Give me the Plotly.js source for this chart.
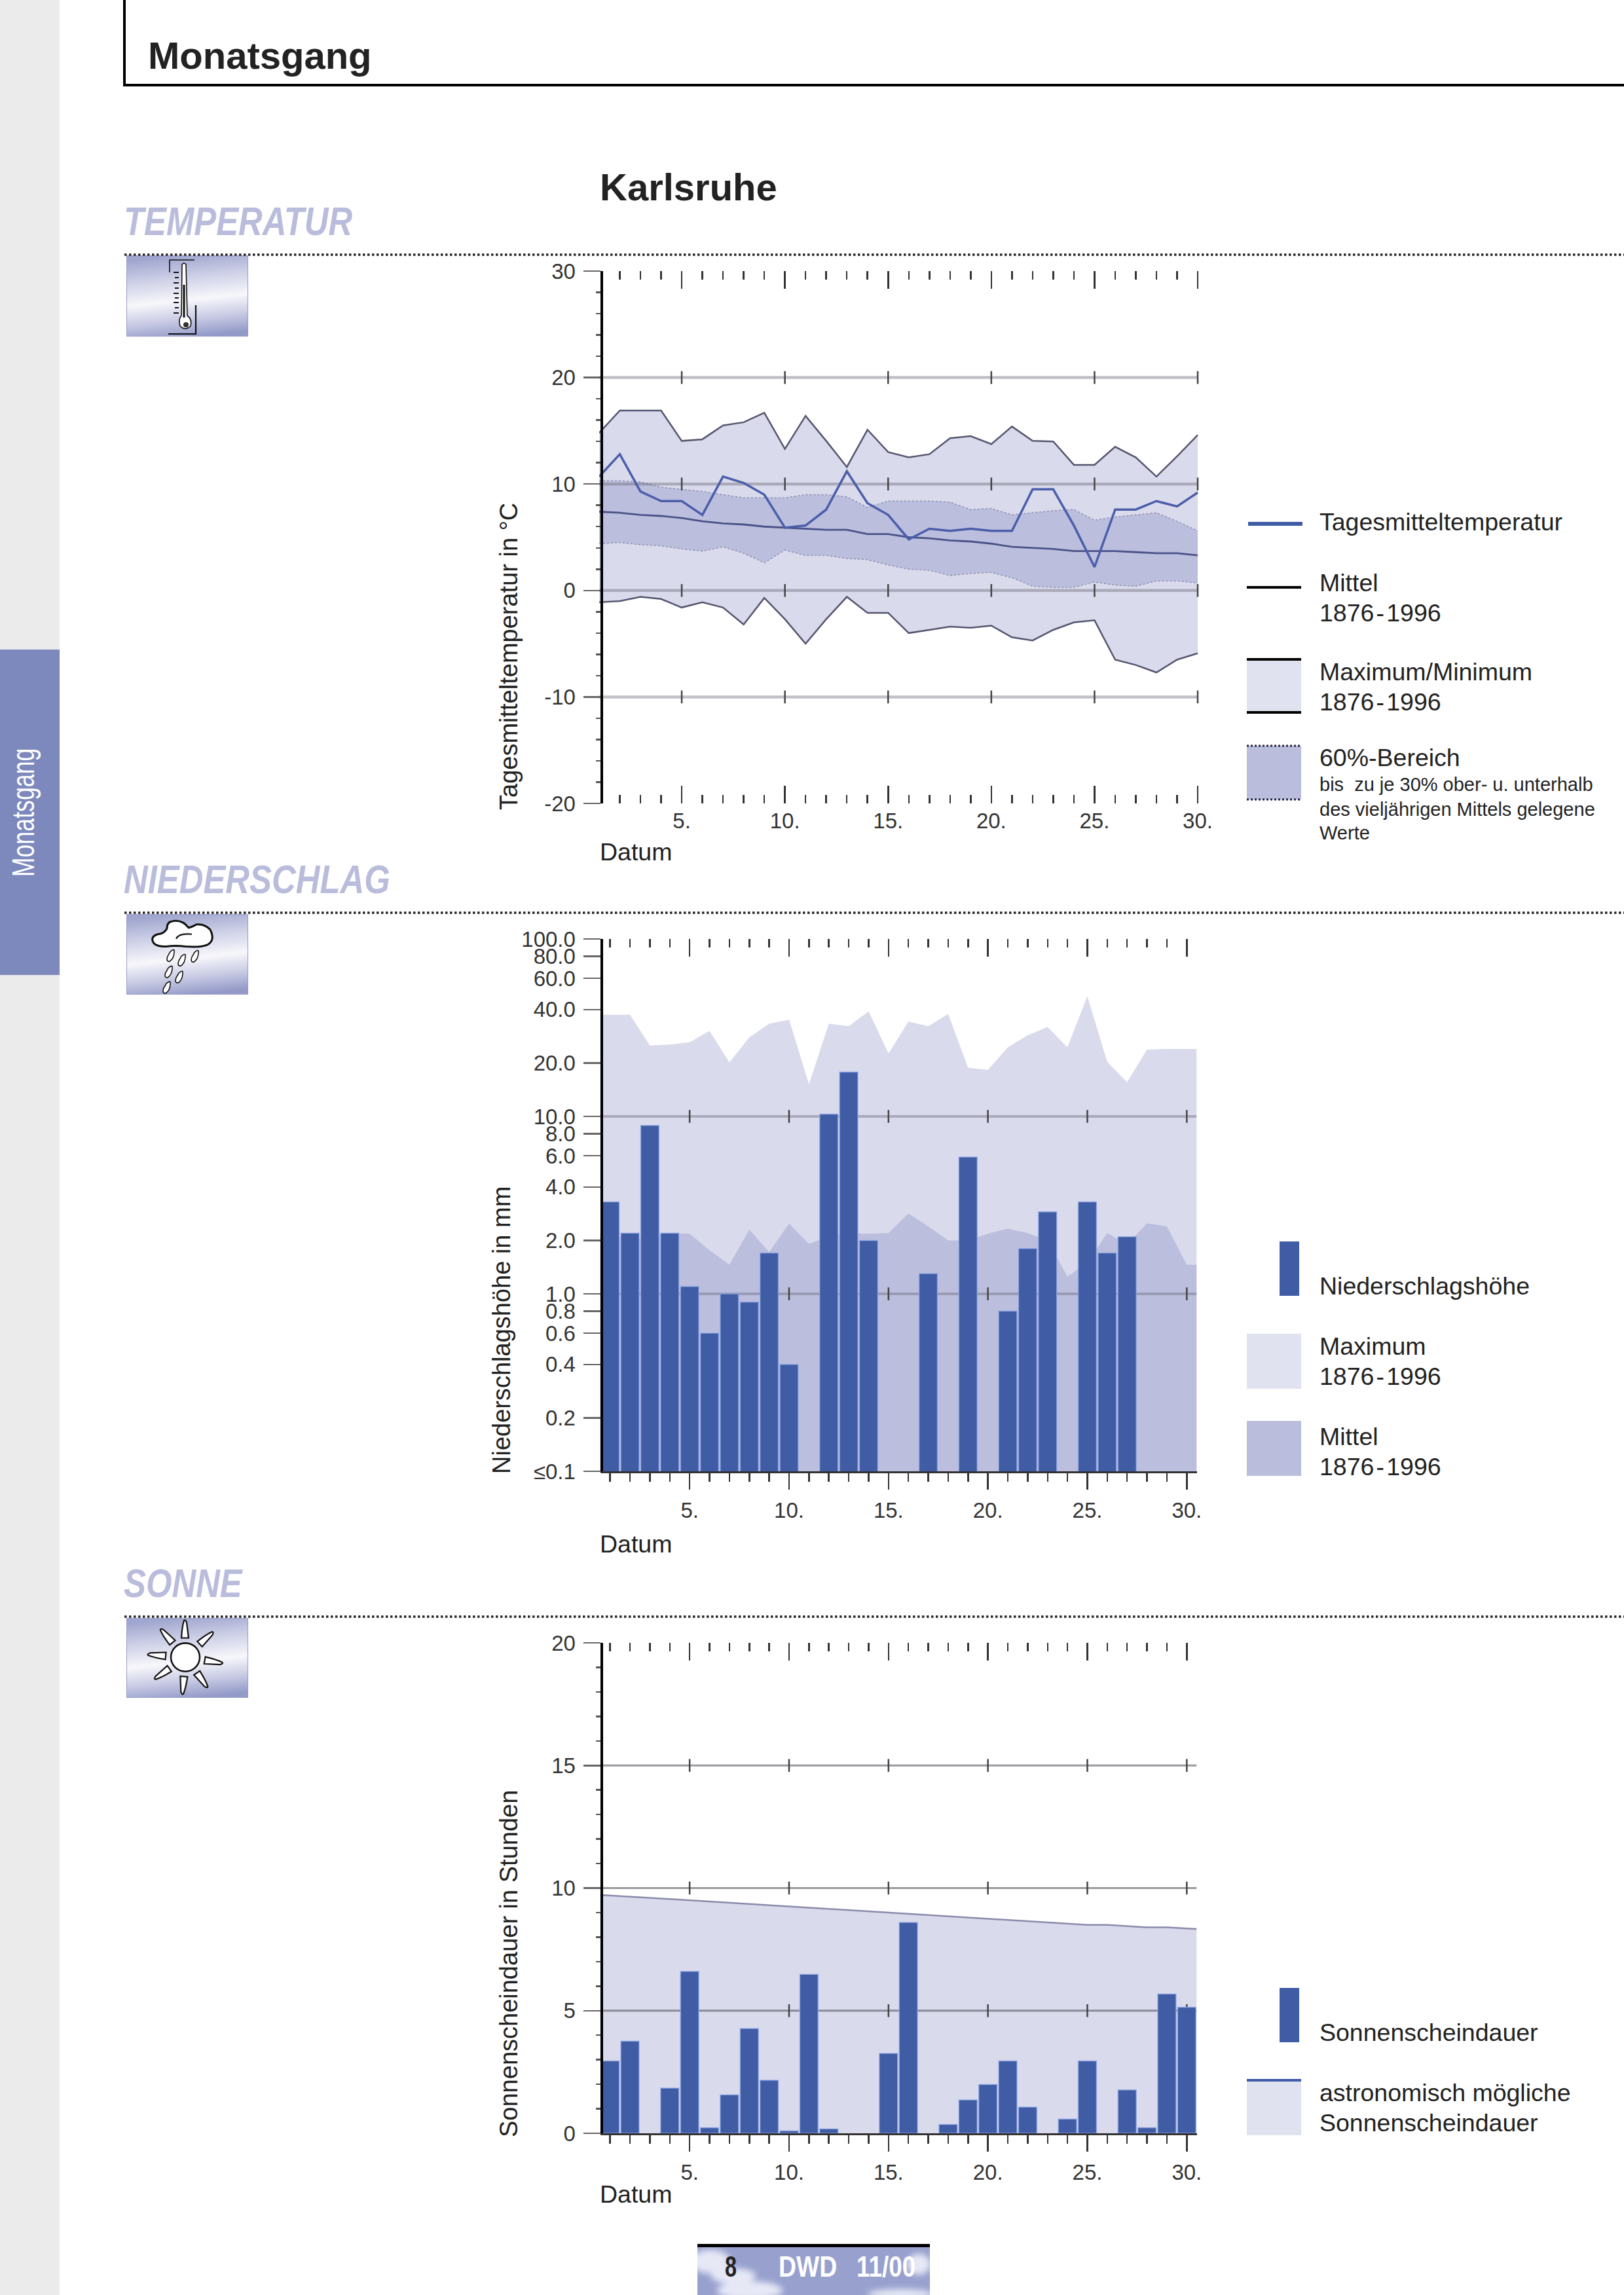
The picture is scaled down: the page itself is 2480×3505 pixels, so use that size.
<!DOCTYPE html>
<html><head><meta charset="utf-8">
<script src="https://cdn.plot.ly/plotly-3.0.1.min.js"></script>
<style>html,body{margin:0;padding:0;background:#fff}</style>
</head><body><div id="chart" style="width:2480px;height:3505px"></div>
<script>
// ---------- data ----------
const days = [1,2,3,4,5,6,7,8,9,10,11,12,13,14,15,16,17,18,19,20,21,22,23,24,25,26,27,28,29,30];
const tickDays = [5,10,15,20,25,30];
const tickDayLabels = ['5.','10.','15.','20.','25.','30.'];

const tempDaily = [10.7,12.8,9.3,8.4,8.4,7.1,10.7,10.1,9.0,5.9,6.1,7.6,11.2,8.2,7.1,4.8,5.8,5.6,5.8,5.6,5.6,9.5,9.5,6.1,2.2,7.6,7.6,8.4,7.9,9.2];
const tempMean = [7.4,7.3,7.1,7.0,6.8,6.5,6.3,6.2,6.0,5.9,5.8,5.7,5.7,5.3,5.3,5.0,4.9,4.7,4.6,4.4,4.1,4.0,3.9,3.7,3.7,3.7,3.6,3.5,3.5,3.3];
const tempMax = [14.8,16.9,16.9,16.9,14.05,14.2,15.5,15.8,16.7,13.3,16.4,14.05,11.6,15.1,13.0,12.5,12.8,14.3,14.5,13.75,15.4,14.05,14.0,11.8,11.8,13.5,12.5,10.7,12.6,14.6];
const tempMin = [-1.1,-1.0,-0.6,-0.8,-1.6,-1.1,-1.6,-3.2,-0.7,-2.7,-5.0,-2.7,-0.6,-2.1,-2.1,-4.0,-3.7,-3.4,-3.5,-3.3,-4.4,-4.7,-3.7,-3.0,-2.8,-6.5,-7.0,-7.7,-6.5,-5.9];
const tempP60Up = [10.3,10.3,10.2,9.7,9.5,9.3,9.0,8.7,8.7,8.7,9.0,9.0,8.8,7.8,8.4,8.4,8.4,8.3,7.6,7.7,7.1,7.3,7.5,7.6,6.6,6.9,7.1,7.3,6.5,5.6];
const tempP60Low = [4.4,4.5,4.3,4.2,3.9,3.7,4.1,3.5,2.6,3.8,3.3,3.3,3.0,2.9,2.4,2.0,1.9,1.4,1.6,1.7,1.2,0.4,0.3,0.3,0.8,0.5,0.4,0.9,0.9,0.7];
const tempTicks = [-20,-10,0,10,20,30];
const tempMinorTicks = [-18,-16,-14,-12,-8,-6,-4,-2,2,4,6,8,12,14,16,18,22,24,26,28];
const tempGrid = [-10,0,10,20];

const precip = [3.3,2.2,8.9,2.2,1.1,0.6,1.0,0.9,1.7,0.4,null,10.3,17.8,2.0,null,null,1.3,null,5.9,null,0.8,1.8,2.9,null,3.3,1.7,2.1,null,null,null];
const precipEdgeDays = [0.5,1,2,3,4,5,6,7,8,9,10,11,12,13,14,15,16,17,18,19,20,21,22,23,24,25,26,27,28,29,30,30.5];
const precipMax = [37.4,37.4,37.4,25.1,25.4,26.2,30.3,20.1,27.9,33.3,35.1,15.2,33.3,32.2,39.1,22.6,34.2,32.2,37.8,18.8,18.3,24.5,28.7,31.9,24.5,47.5,20.3,15.6,23.8,24.0,24.0,24.0];
const precipMean = [2.2,2.2,2.0,2.1,2.2,2.18,1.76,1.46,2.3,1.72,2.49,1.91,2.1,2.2,2.18,2.2,2.84,2.4,2.0,2.0,2.18,2.33,2.2,2.0,1.25,1.5,2.2,1.9,2.5,2.4,1.46,1.46];
const precipFloor = [0.1,0.1,0.1,0.1,0.1,0.1,0.1,0.1,0.1,0.1,0.1,0.1,0.1,0.1,0.1,0.1,0.1,0.1,0.1,0.1,0.1,0.1,0.1,0.1,0.1,0.1,0.1,0.1,0.1,0.1,0.1,0.1];
const precipTicks = [0.1,0.2,0.4,0.6,0.8,1,2,4,6,8,10,20,40,60,80,100];
const precipTickLabels = ['≤0.1','0.2','0.4','0.6','0.8','1.0','2.0','4.0','6.0','8.0','10.0','20.0','40.0','60.0','80.0','100.0'];
const precipGrid = [1,10];

const sun = [2.95,3.76,null,1.84,6.6,0.23,1.57,4.27,2.16,0.1,6.48,0.18,null,null,3.26,8.6,null,0.36,1.36,1.99,2.95,1.07,null,0.58,2.95,null,1.77,0.23,5.68,5.14];
const sunEdgeDays = [0.5,1,2,3,4,5,6,7,8,9,10,11,12,13,14,15,16,17,18,19,20,21,22,23,24,25,26,27,28,29,30,30.5];
const sunAstro = [9.72,9.7,9.65,9.6,9.55,9.5,9.45,9.4,9.35,9.3,9.25,9.2,9.15,9.1,9.05,9.0,8.95,8.9,8.85,8.8,8.75,8.7,8.65,8.6,8.55,8.5,8.5,8.45,8.4,8.4,8.35,8.33];
const sunTicks = [0,5,10,15,20];
const sunMinorTicks = [1,2,3,4,6,7,8,9,11,12,13,14,16,17,18,19];
const sunGrid = [5,10,15];

// ---------- page geometry and styles ----------
const W = 2480, H = 3505;
const px = x => x / W, py = y => 1 - y / H;
const SANS = 'Liberation Sans, Arial, sans-serif';
const BLUE = '#3F5CA4', BAND = '#D9DAEB', BAND2 = '#BCBEDD', TXT = '#222222', HEAD = '#B9BCDB';
const SW1 = '#E1E2EF', SW2 = '#BBBDDC';
const YEARS = '1876\u200A-\u200A1996';

const annotations = [], shapes = [], images = [], squeezed = [];
function label(x, base, text, size, o) {
  o = o || {};
  if (o.squeeze) squeezed.push([annotations.length, o.squeeze, 'left']);
  annotations.push({xref:'paper', yref:'paper', x:px(x), y:py(base - 0.3465 * size), xanchor:'left', yanchor:'middle',
    text:o.b ? '<b>' + (o.i ? '<i>' + text + '</i>' : text) + '</b>' : text, showarrow:false, borderpad:0, align:'left',
    font:{family:SANS, size:size, color:o.color || TXT}});
}
function vlabel(xc, yc, text, size, color, squeeze) {
  if (squeeze) squeezed.push([annotations.length, squeeze, 'center']);
  annotations.push({xref:'paper', yref:'paper', x:px(xc), y:py(yc), xanchor:'center', yanchor:'middle', textangle:-90,
    text:text, showarrow:false, borderpad:0, font:{family:SANS, size:size, color:color || TXT}});
}
function rect(x0, y0, x1, y1, fill) {
  shapes.push({type:'rect', xref:'paper', yref:'paper', x0:px(x0), x1:px(x1), y0:py(y0), y1:py(y1), fillcolor:fill, line:{width:0}, layer:'above'});
}
function hline(x0, x1, y, color, width, dash) {
  shapes.push({type:'line', xref:'paper', yref:'paper', x0:px(x0), x1:px(x1), y0:py(y), y1:py(y), line:{color:color, width:width, dash:dash || 'solid'}, layer:'above'});
}
function vline(x, y0, y1, color, width) {
  shapes.push({type:'line', xref:'paper', yref:'paper', x0:px(x), x1:px(x), y0:py(y0), y1:py(y1), line:{color:color, width:width}, layer:'above'});
}
function svgImage(svg, x, y, w, h) {
  images.push({source:'data:image/svg+xml;charset=utf-8,' + encodeURIComponent(svg), xref:'paper', yref:'paper',
    x:px(x), y:py(y), sizex:w / W, sizey:h / H, xanchor:'left', yanchor:'top', sizing:'stretch', layer:'above'});
}
function icon(inner) {
  return '<svg xmlns="http://www.w3.org/2000/svg" width="186" height="124" viewBox="0 0 186 124">' +
    '<defs><linearGradient id="g" x1="0.42" y1="0" x2="0.58" y2="1">' +
    '<stop offset="0" stop-color="#A0A6CF"/><stop offset="0.25" stop-color="#CBCDE5"/><stop offset="0.55" stop-color="#F7F7FB"/>' +
    '<stop offset="0.78" stop-color="#C9CBE4"/><stop offset="1" stop-color="#939AC8"/></linearGradient></defs>' +
    '<rect x="0.5" y="0.5" width="185" height="123" fill="url(#g)" stroke="#989EC8"/>' + inner + '</svg>';
}
const thermoIcon = icon(
  '<path d="M66 26V7H104" fill="none" stroke="#111" stroke-width="1.6"/><path d="M106 76V120H64" fill="none" stroke="#111" stroke-width="2.2"/>' +
  '<path d="M85 14Q88 10 91 14L93 92Q101 98 98 108Q90 116 82 108Q79 98 84 92Z" fill="#fff" stroke="#111" stroke-width="1.6"/>' +
  '<path d="M88 45V95" stroke="#111" stroke-width="3"/><circle cx="91" cy="106" r="4" fill="#333"/>' +
  '<path d="M72 26H80M74 34H80M72 42H80M74 50H80M72 58H80M74 65H80M72 72H80M74 80H80M72 88H80" stroke="#111" stroke-width="1.8"/>');
const rainDrop = (x, y) => '<path d="M' + x + ' ' + y + 'q7 -6 6 0q0 10 -7 15q-6 0 -3 -8z" fill="#fff" stroke="#111" stroke-width="1.6"/>';
const rainIcon = icon(
  '<path d="M40 41Q38 34 48 31Q58 30 62 22Q62 12 70 11Q85 8 95 21Q100 20 107 16Q120 15 128 24Q135 38 127 45Q120 52 90 50Q75 48 60 50Q42 50 40 41Z" fill="#fff" stroke="#111" stroke-width="3"/>' +
  '<path d="M76 38Q80 29 100 31" fill="none" stroke="#111" stroke-width="2.2"/>' +
  rainDrop(67,58) + rainDrop(84,65) + rainDrop(104,59) + rainDrop(64,83) + rainDrop(80,91) + rainDrop(61,107));
const sunRay = a => '<path transform="rotate(' + a + ' 90 61)" d="M84 31L95 31L92 7Q90 2 88 4Q85 14 84 31Z" fill="#fff" stroke="#111" stroke-width="2.2"/>';
const sunIcon = icon('<circle cx="90" cy="61" r="22" fill="#fff" stroke="#111" stroke-width="2.6"/>' +
  [0,48,100,145,185,235,275,320].map(sunRay).join(''));
const footerArt = '<svg xmlns="http://www.w3.org/2000/svg" width="355" height="73" viewBox="0 0 355 73">' +
  '<defs><filter id="b" x="-30%" y="-30%" width="160%" height="160%"><feGaussianBlur stdDeviation="5"/></filter></defs>' +
  '<rect width="355" height="73" fill="#98A1CE"/>' +
  '<g filter="url(#b)" fill="#E6E8F6"><ellipse cx="20" cy="22" rx="30" ry="18"/><ellipse cx="55" cy="44" rx="34" ry="12"/><ellipse cx="80" cy="66" rx="50" ry="14"/>' +
  '<ellipse cx="338" cy="26" rx="18" ry="16"/><ellipse cx="310" cy="72" rx="50" ry="8"/></g></svg>';

// ---------- page furniture ----------
rect(0, 0, 91, H, '#EBEBEB');
rect(0, 992, 91, 1489, '#7D88BC');
vlabel(36, 1241, 'Monatsgang', 48, '#FFFFFF', 0.745);
vline(190, 0, 131, '#000000', 4);
hline(188, W, 130, '#000000', 4);
label(225, 105, 'Monatsgang', 58, {b:true});
label(915, 306, 'Karlsruhe', 58, {b:true});

[[ 'TEMPERATUR', 359, 389, 390, 124, thermoIcon ],
 [ 'NIEDERSCHLAG', 1364, 1394, 1396, 123, rainIcon ],
 [ 'SONNE', 2439, 2469, 2471, 122, sunIcon ]].forEach(s => {
  label(188, s[1], s[0], 62, {b:true, i:true, color:HEAD, squeeze:0.82});
  svgImage(s[5], 193, s[3], 186, s[4]);
  hline(190, W, s[2], '#222222', 3.5, 'dot');
});

// footer
svgImage(footerArt, 1065, 3432, 355, 73);
hline(1065, 1420, 3429.5, '#000000', 5);
label(1106, 3477, '8', 45, {b:true, squeeze:0.72});
label(1188, 3477, 'DWD', 45, {b:true, color:'#FFFFFF', squeeze:0.83});
label(1307, 3477, '11/00', 45, {b:true, color:'#FFFFFF', squeeze:0.82});

// axis captions
vlabel(777, 1003, 'Tagesmitteltemperatur in °C', 38);
vlabel(766, 2032, 'Niederschlagshöhe in mm', 38);
vlabel(777, 2999, 'Sonnenscheindauer in Stunden', 38);
label(915, 1314, 'Datum', 37.5);
label(915, 2371, 'Datum', 37.5);
label(915, 3364, 'Datum', 37.5);

// legend: temperature
hline(1906, 1989, 800, '#3F5CA4', 6);
label(2014, 810, 'Tagesmitteltemperatur', 37.5);
hline(1904, 1987, 897, '#000000', 4);
label(2014, 903, 'Mittel', 37.5);
label(2014, 949, YEARS, 37.5);
rect(1904, 1007, 1987, 1088, SW1);
hline(1904, 1987, 1007, '#000000', 4);
hline(1904, 1987, 1088, '#000000', 4);
label(2014, 1039, 'Maximum/Minimum', 37.5);
label(2014, 1085, YEARS, 37.5);
rect(1904, 1139, 1987, 1221, SW2);
hline(1904, 1987, 1139, '#222244', 3, 'dot');
hline(1904, 1987, 1221, '#222244', 3, 'dot');
label(2014, 1170, '60%-Bereich', 37.5);
label(2014, 1208, 'bis  zu je 30% ober- u. unterhalb', 29);
label(2014, 1246, 'des vieljährigen Mittels gelegene', 29);
label(2014, 1282, 'Werte', 29);

// legend: precipitation
rect(1954, 1896, 1984, 1979, BLUE);
label(2014, 1977, 'Niederschlagshöhe', 37.5);
rect(1904, 2037, 1987, 2121, SW1);
label(2014, 2069, 'Maximum', 37.5);
label(2014, 2115, YEARS, 37.5);
rect(1904, 2170, 1987, 2254, SW2);
label(2014, 2207, 'Mittel', 37.5);
label(2014, 2253, YEARS, 37.5);

// legend: sunshine
rect(1954, 3036, 1984, 3119, BLUE);
label(2014, 3117, 'Sonnenscheindauer', 37.5);
rect(1904, 3175, 1987, 3261, SW1);
hline(1904, 1987, 3177, BLUE, 4);
label(2014, 3209, 'astronomisch mögliche', 37.5);
label(2014, 3255, 'Sonnenscheindauer', 37.5);

// ---------- axes ----------
const TICKFONT = {family:SANS, size:33, color:'#333333'};
const AXIS_X = 918.5;
function yAxis(top, bottom, range, ticks, ticktext, minors, extra) {
  return Object.assign({domain:[py(bottom), py(top)], range:range, tickmode:'array', tickvals:ticks, ticktext:ticktext,
    anchor:'free', position:px(AXIS_X),
    ticks:'outside', ticklen:26, tickwidth:2.5, tickcolor:'#666666', tickfont:TICKFONT, ticklabelstandoff:5,
    showgrid:false, zeroline:false, showline:true, linecolor:'#000000', linewidth:4, layer:'above traces',
    minor:minors ? {tickmode:'array', tickvals:minors, ticks:'outside', ticklen:7, tickwidth:2.5, tickcolor:'#555555', showgrid:false} : undefined
  }, extra || {});
}
function xBottom(x0, x1, range, anchor, inside, standoff) {
  return {domain:[px(x0), px(x1)], range:range, anchor:anchor, tickmode:'array', tickvals:tickDays, ticktext:tickDayLabels,
    ticks:inside ? 'inside' : 'outside', ticklen:inside ? 27 : 25, tickwidth:2.5, tickcolor:'#333333', tickfont:TICKFONT, ticklabelstandoff:standoff,
    showgrid:false, zeroline:false, showline:!inside, linecolor:'#333333', linewidth:3, layer:'above traces',
    minor:{tickmode:'array', tickvals:days, ticks:inside ? 'inside' : 'outside', ticklen:13, tickwidth:2.5, tickcolor:'#333333', showgrid:false}};
}
function xTop(x0, x1, range, anchor, over) {
  return {domain:[px(x0), px(x1)], range:range, anchor:anchor, overlaying:over, side:'top', tickmode:'array', tickvals:tickDays,
    ticks:'inside', ticklen:27, tickwidth:2.5, tickcolor:'#333333', showticklabels:false, showgrid:false, zeroline:false, showline:false,
    minor:{tickmode:'array', tickvals:days, ticks:'inside', ticklen:13, tickwidth:2.5, tickcolor:'#333333', showgrid:false}};
}
const num = a => a.map(String);

// ---------- traces ----------
function gridTraces(values, x0, x1, xa, ya, color, width) {
  const out = [];
  values.forEach(v => {
    out.push({type:'scatter', mode:'lines', x:[x0, x1], y:[v, v], xaxis:xa, yaxis:ya, line:{color:color, width:width}, hoverinfo:'skip', showlegend:false});
    out.push({type:'scatter', mode:'markers', x:tickDays, y:tickDays.map(() => v), xaxis:xa, yaxis:ya,
      marker:{symbol:'line-ns', size:14, line:{color:'#444444', width:2.5}}, hoverinfo:'skip', showlegend:false, cliponaxis:false});
  });
  return out;
}
const RANGE12 = [0.5, 30.5];
const RANGE1 = [1, 30.05];
const BAR_EDGE = {color:'rgba(150,172,232,0.75)', width:1.5};
const traces = [
  // temperature
  {type:'scatter', mode:'lines', name:'Minimum 1876-1996', x:days, y:tempMin, xaxis:'x', yaxis:'y', line:{color:'#55556F', width:2.5}},
  {type:'scatter', mode:'lines', name:'Maximum 1876-1996', x:days, y:tempMax, xaxis:'x', yaxis:'y', line:{color:'#55556F', width:2.5}, fill:'tonexty', fillcolor:BAND},
  {type:'scatter', mode:'lines', name:'60%-Bereich unten', x:days, y:tempP60Low, xaxis:'x', yaxis:'y', line:{color:'#8E8FB2', width:1.5, dash:'dot'}},
  {type:'scatter', mode:'lines', name:'60%-Bereich oben', x:days, y:tempP60Up, xaxis:'x', yaxis:'y', line:{color:'#8E8FB2', width:1.5, dash:'dot'}, fill:'tonexty', fillcolor:BAND2},
  ...gridTraces(tempGrid, 1, 30, 'x', 'y', 'rgba(105,105,120,0.42)', 4.5),
  {type:'scatter', mode:'lines', name:'Mittel 1876-1996', x:days, y:tempMean, xaxis:'x4', yaxis:'y', line:{color:'#4C5288', width:2.8}},
  {type:'scatter', mode:'lines', name:'Tagesmitteltemperatur', x:days, y:tempDaily, xaxis:'x4', yaxis:'y', line:{color:'#4A5EAA', width:3.5}},
  // precipitation
  {type:'scatter', mode:'lines', x:precipEdgeDays, y:precipFloor, xaxis:'x2', yaxis:'y2', line:{width:0}, hoverinfo:'skip', showlegend:false},
  {type:'scatter', mode:'lines', name:'Maximum 1876-1996', x:precipEdgeDays, y:precipMax, xaxis:'x2', yaxis:'y2', line:{width:0}, fill:'tonexty', fillcolor:BAND},
  {type:'scatter', mode:'lines', x:precipEdgeDays, y:precipFloor, xaxis:'x2', yaxis:'y2', line:{width:0}, hoverinfo:'skip', showlegend:false},
  {type:'scatter', mode:'lines', name:'Mittel 1876-1996', x:precipEdgeDays, y:precipMean, xaxis:'x2', yaxis:'y2', line:{width:0}, fill:'tonexty', fillcolor:BAND2},
  ...gridTraces(precipGrid, 0.5, 30.5, 'x2', 'y2', 'rgba(105,105,125,0.42)', 4),
  {type:'bar', name:'Niederschlagshöhe', x:days, y:precip, xaxis:'x5', yaxis:'y2', marker:{color:BLUE, line:BAR_EDGE}, width:0.92},
  // sunshine
  {type:'scatter', mode:'lines', name:'astronomisch mögliche Sonnenscheindauer', x:sunEdgeDays, y:sunAstro, xaxis:'x3', yaxis:'y3', line:{color:'#8A8AAC', width:2.5}, fill:'tozeroy', fillcolor:BAND},
  ...gridTraces(sunGrid, 0.5, 30.5, 'x3', 'y3', 'rgba(85,85,95,0.6)', 3),
  {type:'bar', name:'Sonnenscheindauer', x:days, y:sun, xaxis:'x6', yaxis:'y3', marker:{color:BLUE, line:BAR_EDGE}, width:0.92}
];

const layout = {
  width:W, height:H, margin:{l:0, r:0, t:0, b:0, pad:0}, paper_bgcolor:'#FFFFFF', plot_bgcolor:'rgba(0,0,0,0)',
  showlegend:false, hovermode:false, bargap:0.08,
  xaxis: xBottom(915, 1830.6, RANGE1, 'y', true, 4),
  xaxis4: xTop(915, 1830.6, RANGE1, 'y', 'x'),
  yaxis: yAxis(414, 1227, [-20, 30], tempTicks, num(tempTicks), tempMinorTicks),
  xaxis2: xBottom(916.5, 1827.5, RANGE12, 'y2', false, 3),
  xaxis5: xTop(916.5, 1827.5, RANGE12, 'y2', 'x2'),
  yaxis2: yAxis(1434, 2247, [-1, 2], precipTicks, precipTickLabels, null, {type:'log'}),
  xaxis3: xBottom(916.5, 1827.5, RANGE12, 'y3', false, 3),
  xaxis6: xTop(916.5, 1827.5, RANGE12, 'y3', 'x3'),
  yaxis3: yAxis(2509, 3258, [0, 20], sunTicks, num(sunTicks), sunMinorTicks),
  annotations:annotations, shapes:shapes, images:images
};
Plotly.newPlot('chart', traces, layout, {staticPlot:true, displayModeBar:false}).then(gd => {
  // the original sets these headings in a condensed cut: narrow the real text elements
  squeezed.forEach(s => {
    const g = gd.querySelector('.annotation[data-index="' + s[0] + '"]');
    const t = g && g.querySelector('text');
    if (!t) return;
    const b = t.getBBox();
    const pivot = s[2] === 'left' ? b.x : b.x + b.width / 2;
    const old = t.getAttribute('transform') || '';
    t.setAttribute('transform', old + ' translate(' + pivot + ',0) scale(' + s[1] + ',1) translate(' + (-pivot) + ',0)');
  });
});
</script></body></html>
